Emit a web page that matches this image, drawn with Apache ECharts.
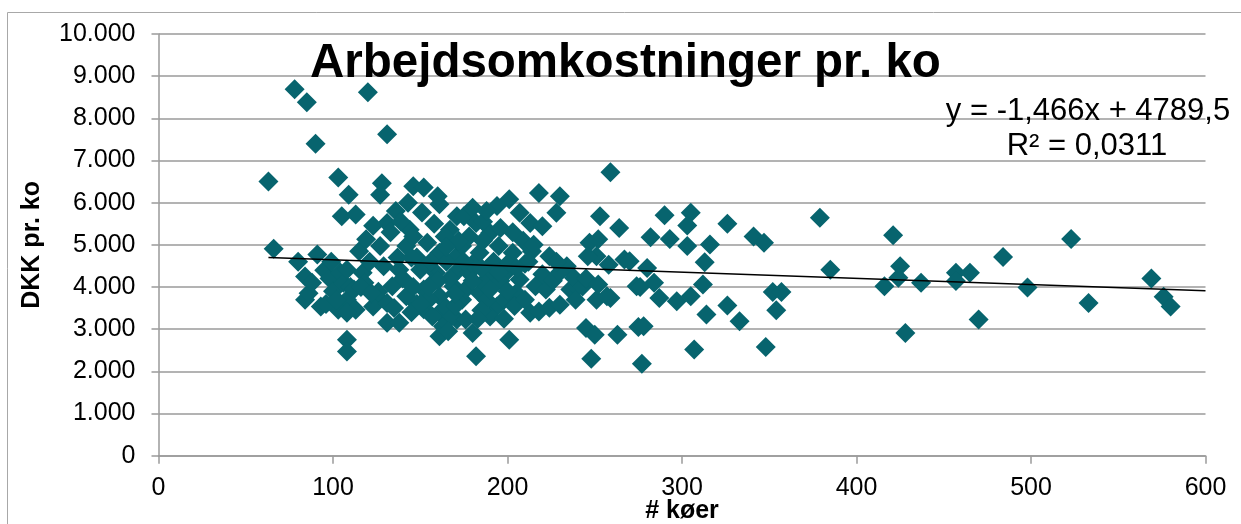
<!DOCTYPE html>
<html>
<head>
<meta charset="utf-8">
<script src="https://cdn.jsdelivr.net/npm/echarts@6/dist/echarts.min.js"></script>
<style>
html,body{margin:0;padding:0;background:#fff;overflow:hidden;}
#chart{width:1241px;height:524px;}
</style>
</head>
<body>
<div id="chart"></div>
<script>
// # køer (x) and DKK pr. ko (y)
const koer = [
63,66,78,85,90,120,131,103,109,105,113,128,127,146,131,144,151,161,171,167,152,160,143,
80,84,84,86,91,93,88,95,98,100,103,104,106,108,110,113,108,108,108,108,115,117,119,127,112,125,123,126,131,131,138,134,129,138,142,142,150,152,152,154,159,161,161,161,163,161,171,171,169,172,174,118,121,99,96,102,135,137,140,133,123,136,139,146,148,156,157,158,164,165,167,146,148,155,157,165,168,145,
174,175,180,182,190,178,184,190,195,199,203,207,214,224,234,176,184,194,205,216,222,236,176,180,213,218,224,230,201,182,194,201,207,213,220,228,218,230,186,180,186,192,196,198,188,190,185,200,210,209,215,220,226,230,204,210,196,186,178,172,170,166,198,188,203,212,
185,175,195,205,200,190,180,170,160,150,155,145,165,183,116,122,
259,253,264,247,252,251,258,267,246,240,239,251,259,274,245,250,263,275,248,238,243,257,245,228,252,
270,280,276,284,287,297,305,312,314,326,333,352,357,354,278,277,307,348,290,305,303,282,293,303,316,326,341,347,379,385,313,
416,421,425,424,437,428,457,457,465,470,484,498,523,533,569,576,580
];
const dkkPrKo = [
6500,4910,8690,8380,7400,8620,7620,6600,6190,5680,5720,6460,6190,6390,5520,5360,5770,5960,5680,5360,6360,6150,6000,
4600,4250,3700,3850,4770,3540,4100,4400,4200,3900,3460,4350,4100,3700,4000,3460,3390,2750,2470,4410,4850,4340,5130,4970,3940,3780,3540,3890,3620,3150,3150,4020,4490,4410,3780,4970,4410,3940,3470,5050,4340,4810,3780,3390,3070,2830,4730,3230,4020,4410,3700,4100,4600,4600,3600,3700,3500,4700,4200,5300,5450,5800,5550,5200,4700,4600,4100,5500,5200,4600,4200,4000,3600,3700,3300,3500,3300,3400,
4970,5680,5880,5520,5280,4340,4810,4260,4970,4340,4810,4180,4850,4730,4490,3940,3860,3540,3860,4020,3940,3940,3230,2910,3390,3420,3510,3580,2750,2360,5920,6080,5760,5520,5440,5760,6230,6150,5100,4550,4100,4600,4150,3700,3700,3300,3450,4550,4550,5100,5000,4300,4150,4350,3550,3700,5400,5550,5200,5100,3550,2950,3250,5800,5300,4600,
4450,4600,4350,4450,3900,3950,4150,3850,4150,3600,4000,4700,4950,3250,4000,3850,
6720,5680,5400,5050,5130,4730,4530,4650,4730,3980,3700,3700,3740,4020,3030,2870,2870,3050,2300,4220,4010,3780,4200,4600,4060,
4610,4450,4000,4100,3740,3660,3780,4060,3350,3560,3190,3880,3880,3450,3070,2180,2520,2580,5700,5760,5460,5180,5140,4970,5010,5500,5200,5050,5640,4410,4590,
4020,5230,4490,4220,4100,2910,4340,4140,4340,3230,4710,3990,5140,3620,4200,3770,3540
];
// linear trendline as printed on the chart
const trendSlope = -1.466;
const trendIntercept = 4789.5;
const trendX = [63, 600];
const xTickInterval = 100;
const yTickInterval = 1000;
const titleText = 'Arbejdsomkostninger pr. ko';
const xName = '# køer';
const yName = 'DKK pr. ko';
const eqLines = ['y = -1,466x + 4789,5', 'R² = 0,0311'];

const pts = koer.map((x, i) => [x, dkkPrKo[i]]);
const trend = trendX.map(x => [x, trendSlope * x + trendIntercept]);

function fmtThousands(v) {
  const s = String(Math.round(v));
  return s.replace(/\B(?=(\d{3})+(?!\d))/g, '.');
}

const FONT = "'Liberation Sans', Arial, sans-serif";
const GRID = '#9a9a9a';

const el = document.getElementById('chart');
const chart = echarts.init(el, null, {renderer: 'canvas', width: 1241, height: 524});
chart.setOption({
  animation: false,
  backgroundColor: '#fff',
  title: {
    text: titleText,
    left: 310, top: 40, padding: 0,
    textStyle: {fontFamily: FONT, fontSize: 47.5, fontWeight: 'bold', color: '#000'}
  },
  grid: {left: 158.5, right: 35.5, top: 34, bottom: 68.3, containLabel: false, outerBoundsMode: 'none'},
  xAxis: {
    type: 'value', min: 0, max: 600, interval: xTickInterval,
    axisLine: {show: true, lineStyle: {color: GRID, width: 1.5}},
    axisTick: {show: true, length: 8, lineStyle: {color: GRID, width: 1.5}},
    axisLabel: {fontFamily: FONT, fontSize: 25, color: '#000', margin: 20},
    splitLine: {show: false}
  },
  yAxis: {
    type: 'value', min: 0, max: 10000, interval: yTickInterval,
    name: yName, nameLocation: 'middle', nameGap: 114,
    nameTextStyle: {fontFamily: FONT, fontSize: 25, fontWeight: 'bold', color: '#000'},
    axisLine: {show: true, lineStyle: {color: GRID, width: 1.5}},
    axisTick: {show: true, length: 7, lineStyle: {color: GRID, width: 1.5}},
    axisLabel: {fontFamily: FONT, fontSize: 25, color: '#000', margin: 23, formatter: v => fmtThousands(v)},
    splitLine: {show: true, lineStyle: {color: GRID, width: 1.5}}
  },
  graphic: [
    {type: 'rect', shape: {x: 7.5, y: 12.5, width: 1400, height: 700}, style: {fill: 'none', stroke: '#a8a8a8', lineWidth: 1}, z: -10, silent: true},
    {type: 'text', x: 682, y: 511, style: {text: xName, font: "bold 25px 'Liberation Sans', Arial, sans-serif", fill: '#000', textAlign: 'center', textVerticalAlign: 'middle'}, z: 100},
    {type: 'text', x: 1088, y: 111, style: {text: eqLines[0], font: "31px 'Liberation Sans', Arial, sans-serif", fill: '#000', textAlign: 'center', textVerticalAlign: 'middle'}, z: 100},
    {type: 'text', x: 1087, y: 146, style: {text: eqLines[1], font: "31px 'Liberation Sans', Arial, sans-serif", fill: '#000', textAlign: 'center', textVerticalAlign: 'middle'}, z: 100}
  ],
  series: [
    {
      type: 'scatter', data: pts, symbol: 'diamond', symbolSize: 20,
      itemStyle: {color: '#07646e', opacity: 1}, z: 2
    },
    {
      type: 'line', data: trend, showSymbol: false, symbol: 'none',
      lineStyle: {color: '#000', width: 1.5}, z: 5
    }
  ]
});
</script>
</body>
</html>
